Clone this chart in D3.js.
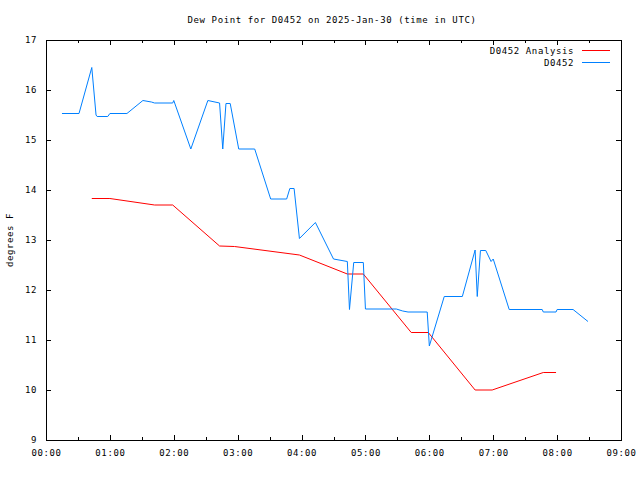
<!DOCTYPE html>
<html><head><meta charset="utf-8">
<script src="https://cdn.jsdelivr.net/npm/d3@7"></script>
<style>
body{margin:0;background:#fff;}
text{font-family:"DejaVu Sans Mono",monospace;font-size:9px;letter-spacing:0.6px;fill:#000;}
</style></head><body>
<script>
const title = "Dew Point for D0452 on 2025-Jan-30 (time in UTC)";
const yLabel = "degrees F";
const seriesNames = ["D0452 Analysis", "D0452"];
const seriesColors = ["#ff0000", "#0080ff"];
const xTickLabels = ["00:00","01:00","02:00","03:00","04:00","05:00","06:00","07:00","08:00","09:00"];
const yTicks = [9,10,11,12,13,14,15,16,17];

const analysisTimes = ["00:43","01:00","01:42","01:59","02:43","02:57","03:58","04:43","04:58","05:43","05:59","06:43","06:59","07:47","07:59"];
const analysisValues = [13.83,13.83,13.70,13.70,12.88,12.87,12.70,12.32,12.32,11.15,11.15,10.00,10.00,10.35,10.35];

const obsTimes = ["00:15","00:31","00:43","00:47","00:48","00:58","01:00","01:16","01:31","01:39","01:42","01:59","02:00","02:16","02:32","02:43","02:46","02:49","02:53","03:01","03:16","03:31","03:46","03:49","03:53","03:58","04:13","04:30","04:43","04:45","04:49","04:58","05:00","05:29","05:35","05:40","05:58","06:00","06:14","06:31","06:43","06:45","06:48","06:53","06:58","07:00","07:15","07:46","07:47","07:59","08:00","08:15","08:29"];
const obsValues = [15.53,15.53,16.45,15.50,15.47,15.47,15.53,15.53,15.79,15.76,15.74,15.74,15.79,14.82,15.79,15.74,14.82,15.73,15.73,14.82,14.82,13.82,13.82,14.03,14.03,13.03,13.35,12.62,12.57,11.61,12.55,12.55,11.62,11.62,11.58,11.56,11.56,10.88,11.87,11.87,12.80,11.87,12.79,12.79,12.57,12.62,11.61,11.61,11.56,11.56,11.61,11.61,11.37];

const toH = s => { const [h,m] = s.split(":").map(Number); return h + m/60; };

const W = 640, H = 480;
const L = 46, R = 621, T = 40, B = 440;
const svg = d3.select("body").append("svg").attr("width", W).attr("height", H);

const x = d3.scaleLinear().domain([0, 9]).range([L, R]);
const y = d3.scaleLinear().domain([9, 17]).range([B, T]);

// frame
svg.append("rect").attr("x", L).attr("y", T).attr("width", R - L).attr("height", B - T)
  .attr("fill", "none").attr("stroke", "#000").attr("stroke-width", 1).attr("shape-rendering", "crispEdges");

const hourTicks = d3.range(0, 10);
const halfTicks = d3.range(0.5, 9, 1);
const fmt = d => xTickLabels[d];

// bottom axis
const gx = svg.append("g").attr("transform", `translate(0,${B})`)
  .call(d3.axisBottom(x).tickValues(hourTicks).tickFormat(fmt).tickSizeInner(-5).tickSizeOuter(0).tickPadding(10));
gx.select(".domain").remove();
gx.selectAll("line").attr("shape-rendering", "crispEdges");
gx.selectAll("text").attr("font-family", null).attr("font-size", null);
svg.append("g").attr("transform", `translate(0,${B})`)
  .call(d3.axisBottom(x).tickValues(halfTicks).tickFormat("").tickSizeInner(-3).tickSizeOuter(0))
  .call(g => g.select(".domain").remove()).selectAll("line").attr("shape-rendering", "crispEdges");
// top mirror
svg.append("g").attr("transform", `translate(0,${T})`)
  .call(d3.axisTop(x).tickValues(hourTicks).tickFormat("").tickSizeInner(-5).tickSizeOuter(0))
  .call(g => g.select(".domain").remove()).selectAll("line").attr("shape-rendering", "crispEdges");
svg.append("g").attr("transform", `translate(0,${T})`)
  .call(d3.axisTop(x).tickValues(halfTicks).tickFormat("").tickSizeInner(-3).tickSizeOuter(0))
  .call(g => g.select(".domain").remove()).selectAll("line").attr("shape-rendering", "crispEdges");

// left axis
const gy = svg.append("g").attr("transform", `translate(${L},0)`)
  .call(d3.axisLeft(y).tickValues(yTicks).tickFormat(d3.format("d")).tickSizeInner(-5).tickSizeOuter(0).tickPadding(9));
gy.select(".domain").remove();
gy.selectAll("line").attr("shape-rendering", "crispEdges");
gy.selectAll("text").attr("font-family", null).attr("font-size", null);
// right mirror
svg.append("g").attr("transform", `translate(${R},0)`)
  .call(d3.axisRight(y).tickValues(yTicks).tickFormat("").tickSizeInner(-5).tickSizeOuter(0))
  .call(g => g.select(".domain").remove()).selectAll("line").attr("shape-rendering", "crispEdges");

// title & y label
svg.append("text").attr("x", 332).attr("y", 23).attr("text-anchor", "middle").text(title);
svg.append("text").attr("transform", "translate(13,240) rotate(-90)").attr("text-anchor", "middle").text(yLabel);

// lines
const line = d3.line().x(d => x(d[0])).y(d => y(d[1]));
const sets = [
  analysisTimes.map((t, i) => [toH(t), analysisValues[i]]),
  obsTimes.map((t, i) => [toH(t), obsValues[i]])
];
sets.forEach((data, i) => {
  svg.append("path").datum(data).attr("d", line).attr("fill", "none")
    .attr("stroke", seriesColors[i]).attr("stroke-width", 1);
});

// legend
seriesNames.forEach((n, i) => {
  const ly = 50 + i * 12;
  svg.append("text").attr("x", 574).attr("y", ly + 3.5).attr("text-anchor", "end").text(n);
  svg.append("line").attr("x1", 582).attr("x2", 610).attr("y1", ly + 0.5).attr("y2", ly + 0.5)
    .attr("stroke", seriesColors[i]).attr("stroke-width", 1);
});
</script>
</body></html>
